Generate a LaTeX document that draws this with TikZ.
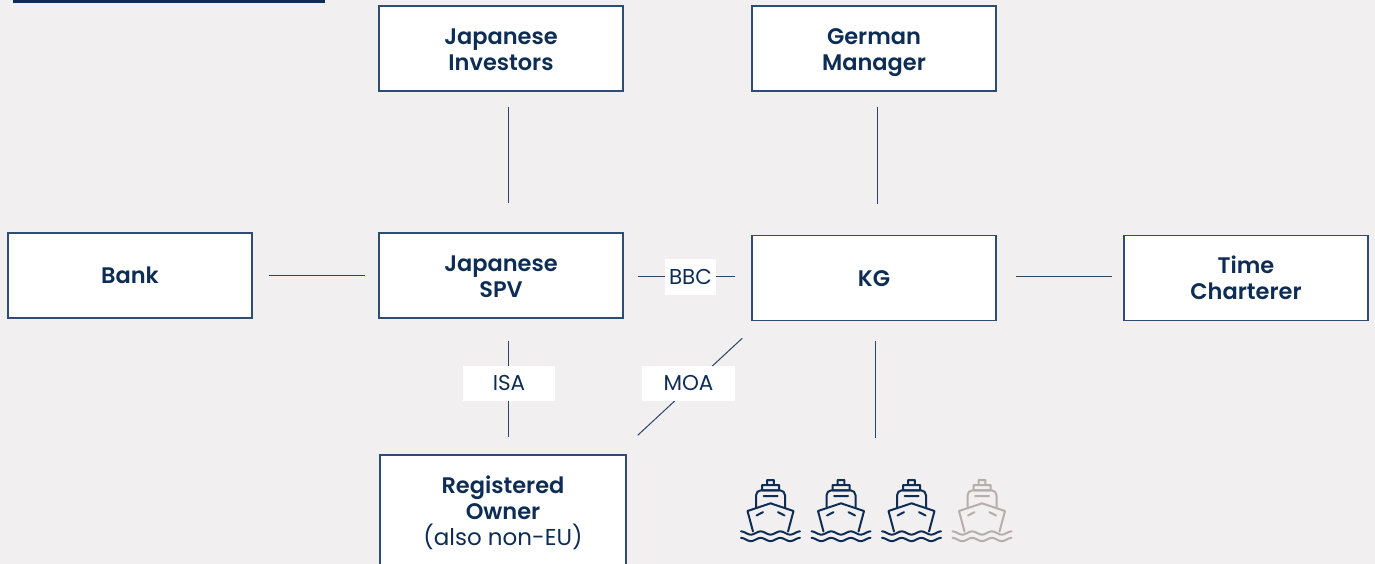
\documentclass[tikz,border=0pt]{standalone}
\usepackage{fontspec}
\setmainfont{Poppins}[BoldFont={Poppins SemiBold}]
\usetikzlibrary{calc}
\definecolor{bgc}{HTML}{F1EFF0}
\definecolor{navy}{HTML}{0E2D55}
\definecolor{boxline}{HTML}{2F4C72}
\definecolor{connc}{HTML}{2A4568}
\definecolor{shipgray}{HTML}{B7ADAA}
\tikzset{
  box/.style={draw=boxline, line width=1.3pt, fill=white, minimum width=244, minimum height=85,
    inner sep=0pt, align=center, text=navy, font=\fontsize{22.5}{26}\selectfont\bfseries,
    text depth=0pt, text height=45pt},
  onebox/.style={box, text height=15pt},
  lbl/.style={fill=white, inner sep=0pt, text=navy, text height=14pt, text depth=0pt,
    font=\fontsize{21.5}{24}\selectfont},
  conn/.style={draw=connc, line width=1pt},
  ship/.pic={
    \draw[line width=2pt, line join=round, line cap=round]
      (-3.3,-26) -- (-3.3,-31) -- (3.3,-31) -- (3.3,-26)
      (-8.5,-20.7) rectangle (8.5,-26)
      (-7,-15) -- (7,-15)
      (-17.5,20.5) -- (-23,0) -- (0,-7.7) -- (23,0) -- (17.5,20.5)
      (-14,4.5) -- (-7.5,1.2) (7.5,1.2) -- (14,4.5);
    \draw[line width=2pt, line join=round, line cap=round, rounded corners=5pt]
      (-14.5,-3.5) -- (-14.5,-20.7) -- (14.5,-20.7) -- (14.5,-3.5);
    \draw[line width=2pt, line cap=round] plot[domain=-29.5:29.5, samples=60, smooth] (\x, {22+1.6*sin(\x*18.3+90)});
    \draw[line width=2pt, line cap=round] plot[domain=-29.5:29.5, samples=60, smooth] (\x, {28.5+1.6*sin(\x*18.3+90)});
  }
}
\begin{document}
\begin{tikzpicture}[x=1pt, y=-1pt]
\useasboundingbox[fill=bgc] (0,0) rectangle (1375,564);
\fill[navy] (13,0) rectangle (325,3);
% boxes
\node[box] (inv) at (501,48.5) {Japanese\\Investors};
\node[box] (gm) at (874,48.5) {German\\Manager};
\node[onebox] (bank) at (130,275.5) {Bank};
\node[box, text height=44pt] (spv) at (501,275.5) {Japanese\\SPV};
\node[onebox, text height=16pt] (kg) at (874,278) {KG};
\node[box, text height=43pt] (tc) at (1246,278) {Time\\Charterer};
\node[box, minimum width=246, minimum height=111.6, text height=69pt] (owner) at (503,510.8) {Registered\\Owner\\\mdseries\fontsize{23}{26}\selectfont(also non-EU)};
\coordinate (ships) at (875,480);
% connectors
\draw[conn] ([xshift=7,yshift=-15]inv.south) -- ([xshift=7,yshift=29]spv.north);
\draw[conn] ([xshift=3,yshift=-15]gm.south) -- ([xshift=3,yshift=31]kg.north);
\draw[conn] ([xshift=16,yshift=0.5]bank.east) -- ([xshift=-13,yshift=0.5]spv.west);
\draw[conn] ([xshift=14,yshift=-0.5]spv.east) -- ($(kg.west |- spv.east)+(-16,0.5)$);
\draw[conn] ([xshift=19,yshift=2]kg.east) -- ($(tc.west |- kg.east)+(-11,-2)$);
\draw[conn] ([xshift=7,yshift=-22]spv.south) -- ([xshift=5,yshift=17]owner.north);
\draw[conn] ($(kg.south west)+(-9,17)$) -- ($(owner.north east)+(11,-19)$);
\draw[conn] ([xshift=1,yshift=-20]kg.south) -- ($(ships)+(0,-42)$);
% labels
\node[lbl, minimum width=51, minimum height=36] (bbc) at (690.5,277) {BBC};
\node[lbl, minimum width=92, minimum height=35] (isa) at (509,383.5) {ISA};
\node[lbl, minimum width=93, minimum height=35] (moa) at (688.5,383.5) {MOA};
% ships
\pic[color=navy] at (770.5,511) {ship};
\pic[color=navy] at (841,511) {ship};
\pic[color=navy] at (911.5,511) {ship};
\pic[color=shipgray] at (982,511) {ship};
\end{tikzpicture}
\end{document}
